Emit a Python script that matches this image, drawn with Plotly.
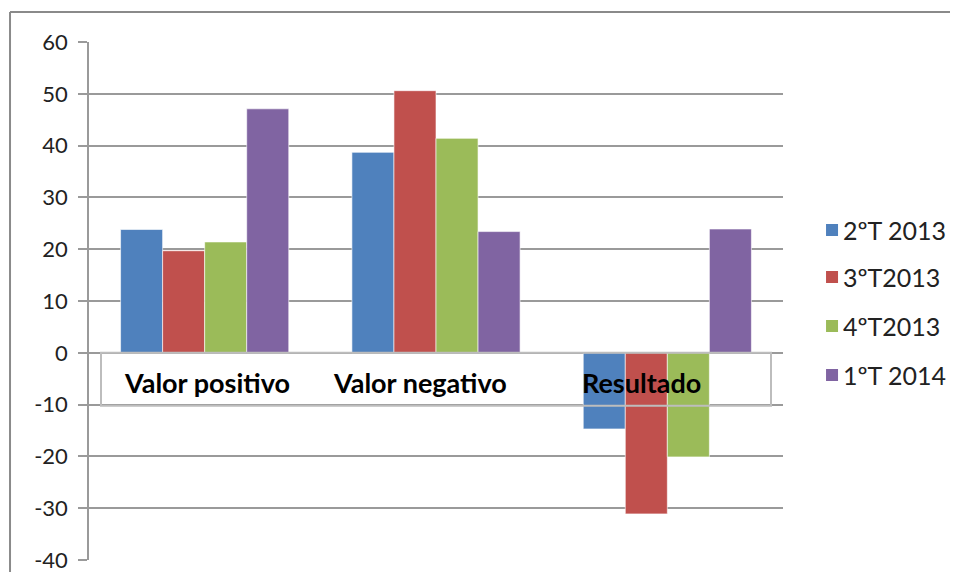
import plotly.graph_objects as go

categories = ["Valor positivo", "Valor negativo", "Resultado"]
series_names = ["2ºT 2013", "3ºT2013", "4ºT2013", "1ºT 2014"]
values = {
    "2ºT 2013": [23.8, 38.7, -14.7],
    "3ºT2013": [19.7, 50.6, -31.1],
    "4ºT2013": [21.4, 41.4, -20.1],
    "1ºT 2014": [47.1, 23.4, 23.9],
}
colors = ["#4F81BD", "#C0504D", "#9BBB59", "#8064A2"]
y_ticks = [60, 50, 40, 30, 20, 10, 0, -10, -20, -30, -40]
y_tick_labels = ["60", "50", "40", "30", "20", "10", "0", "-10", "-20", "-30", "-40"]
label_shift = [2, -16, -26]

fig = go.Figure()
for name, col in zip(series_names, colors):
    fig.add_trace(go.Bar(
        x=categories, y=values[name], name=name, showlegend=False,
        marker=dict(color=col, line=dict(color="rgba(255,255,255,0.6)", width=1)),
    ))

FONT = "Lato, 'Open Sans', sans-serif"
grid = "#9a9a9a"

# the page body adds an 8px offset; plot area spans page x 89..783, y 42..560
fig.update_layout(
    width=942, height=564,
    paper_bgcolor="white", plot_bgcolor="white",
    margin=dict(l=81, r=167, t=34, b=12, autoexpand=False),
    barmode="group", bargap=0.273, bargroupgap=0,
    font=dict(family=FONT, size=22, color="#222"),
    showlegend=False,
    xaxis=dict(showticklabels=False, showgrid=False, zeroline=False,
               showline=False, ticks="", automargin=False),
    yaxis=dict(range=[-40, 60], tickvals=y_ticks, ticktext=y_tick_labels,
               showgrid=True, ticklabeloverflow="allow", automargin=False,
               gridcolor=grid, gridwidth=1.5, zeroline=True,
               zerolinecolor=grid, zerolinewidth=1.5,
               showline=True, linecolor=grid, linewidth=1.5,
               ticks="outside", ticklen=9, tickcolor=grid, tickwidth=1.5,
               tickfont=dict(size=22, color="#222"), ticklabelstandoff=6),
)

# category label box: white fill under bars, border on top
fig.add_shape(type="rect", xref="paper", yref="y", x0=0.0173, x1=0.9827,
              y0=0, y1=-10.2, fillcolor="white", line=dict(width=0),
              layer="between")
fig.add_shape(type="rect", xref="paper", yref="y", x0=0.0173, x1=0.9827,
              y0=0, y1=-10.2, fillcolor="rgba(0,0,0,0)",
              line=dict(color="#bdbdbd", width=2), layer="above")

for c, sh in zip(categories, label_shift):
    fig.add_annotation(x=c, y=-5.8, text="<b>%s</b>" % c, showarrow=False,
                       xshift=sh,
                       font=dict(family=FONT, size=27, color="black"),
                       xanchor="center", yanchor="middle")

# legend (drawn manually to match spacing)
legend_y = [0.6371, 0.5463, 0.4517, 0.3571]
half = 0.0116
for name, col, ly in zip(series_names, colors, legend_y):
    fig.add_shape(type="rect", xref="paper", yref="paper",
                  x0=1.0620, x1=1.0793, y0=ly - half, y1=ly + half,
                  fillcolor=col, line=dict(width=0))
    fig.add_annotation(xref="paper", yref="paper", x=1.0835, y=ly,
                       text=name, showarrow=False, xanchor="left",
                       yanchor="middle",
                       font=dict(family=FONT, size=25, color="#222"))

# outer chart border: only top and left edges are in view
border = dict(color="#8a8a8a", width=2)
fig.add_shape(type="line", xref="paper", yref="paper", x0=-0.1138, x1=1.3,
              y0=1.0579, y1=1.0579, line=border, layer="above")
fig.add_shape(type="line", xref="paper", yref="paper", x0=-0.1138, x1=-0.1138,
              y0=-0.1, y1=1.0579, line=border, layer="above")

fig.write_html("out.html", post_script="document.body.style.overflow='hidden';")
